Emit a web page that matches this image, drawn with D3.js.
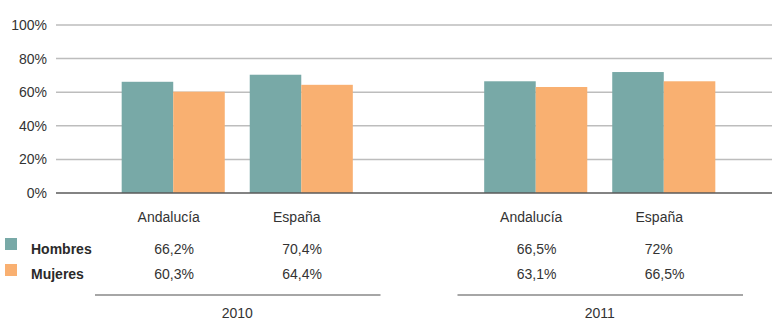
<!DOCTYPE html>
<html>
<head>
<meta charset="utf-8">
<script src="https://cdn.jsdelivr.net/npm/d3@7"></script>
<style>
  html, body { margin: 0; padding: 0; background: #fff; }
  svg { display: block; font-family: "Liberation Sans", Arial, sans-serif; }
</style>
</head>
<body>
<svg id="chart" width="772" height="320"></svg>
<script>
const years = ["2010", "2011"];
const categories = ["Andalucía", "España"];
const seriesNames = ["Hombres", "Mujeres"];
const hombres = [66.2, 70.4, 66.5, 72.0];
const mujeres = [60.3, 64.4, 63.1, 66.5];
const valueLabels = {
  Hombres: ["66,2%", "70,4%", "66,5%", "72%"],
  Mujeres: ["60,3%", "64,4%", "63,1%", "66,5%"]
};
const yTicks = [0, 20, 40, 60, 80, 100];
const colors = { Hombres: "#78a9a7", Mujeres: "#f9b071" };

(function () {
const svg = d3.select("#chart");
const plotLeft = 56, plotRight = 772, plotTop = 25, plotBottom = 193;

const y = d3.scaleLinear().domain([0, 100]).range([plotBottom, plotTop]);
const xYear = d3.scaleBand().domain(years).range([plotLeft, 781]).padding(0);
const xCat = d3.scaleBand().domain(categories).range([0, xYear.bandwidth()])
  .paddingInner(0.195).paddingOuter(0.513);
const xSer = d3.scaleBand().domain(seriesNames).range([0, xCat.bandwidth()]).padding(0);

// gridlines
svg.append("g").selectAll("line").data(yTicks.filter(t => t > 0)).join("line")
  .attr("x1", plotLeft).attr("x2", plotRight)
  .attr("y1", d => y(d)).attr("y2", d => y(d))
  .attr("stroke", "#bdbdbd").attr("stroke-width", 1.5);

// y tick labels
svg.append("g").selectAll("text").data(yTicks).join("text")
  .attr("x", 47).attr("y", d => y(d)).attr("dy", "0.36em")
  .attr("text-anchor", "end").attr("font-size", 14).attr("fill", "#333")
  .text(d => d + "%");

// data rows
const rows = [];
years.forEach((yr, yi) => categories.forEach((c, ci) => {
  const i = yi * categories.length + ci;
  rows.push({ year: yr, cat: c, i, Hombres: hombres[i], Mujeres: mujeres[i] });
}));

const groupX = d => xYear(d.year) + xCat(d.cat);
const groupCenter = d => groupX(d) + xCat.bandwidth() / 2;

// bars
const gBars = svg.append("g");
rows.forEach(r => {
  seriesNames.forEach(s => {
    gBars.append("rect")
      .attr("x", groupX(r) + xSer(s))
      .attr("y", y(r[s]))
      .attr("width", xSer.bandwidth())
      .attr("height", y(0) - y(r[s]))
      .attr("fill", colors[s]);
  });
});

// baseline
svg.append("line").attr("x1", plotLeft).attr("x2", plotRight)
  .attr("y1", y(0)).attr("y2", y(0))
  .attr("stroke", "#5a5a5a").attr("stroke-width", 1.5);

// category labels
svg.append("g").selectAll("text").data(rows).join("text")
  .attr("x", d => groupCenter(d) - 4.5).attr("y", 222)
  .attr("text-anchor", "middle").attr("font-size", 14).attr("fill", "#333")
  .text(d => d.cat);

// legend + value rows
const rowY = { Hombres: 254, Mujeres: 279 };
const sqY = { Hombres: 238, Mujeres: 264 };
seriesNames.forEach(s => {
  svg.append("rect").attr("x", 5).attr("y", sqY[s]).attr("width", 12).attr("height", 12)
    .attr("fill", colors[s]);
  svg.append("text").attr("x", 31).attr("y", rowY[s])
    .attr("font-size", 14).attr("font-weight", "bold").attr("fill", "#2a2a2a")
    .text(s);
  svg.append("g").selectAll("text").data(rows).join("text")
    .attr("x", d => groupCenter(d) - 19).attr("y", rowY[s])
    .attr("font-size", 14).attr("fill", "#333")
    .text(d => valueLabels[s][d.i]);
});

// year rules and labels
years.forEach(yr => {
  const x0 = xYear(yr), bw = xYear.bandwidth();
  svg.append("line").attr("x1", x0 + 39).attr("x2", x0 + bw - 38)
    .attr("y1", 295).attr("y2", 295)
    .attr("stroke", "#888").attr("stroke-width", 1.5);
  svg.append("text").attr("x", x0 + bw / 2).attr("y", 318)
    .attr("text-anchor", "middle").attr("font-size", 14).attr("fill", "#333")
    .text(yr);
});
})();
</script>
</body>
</html>
